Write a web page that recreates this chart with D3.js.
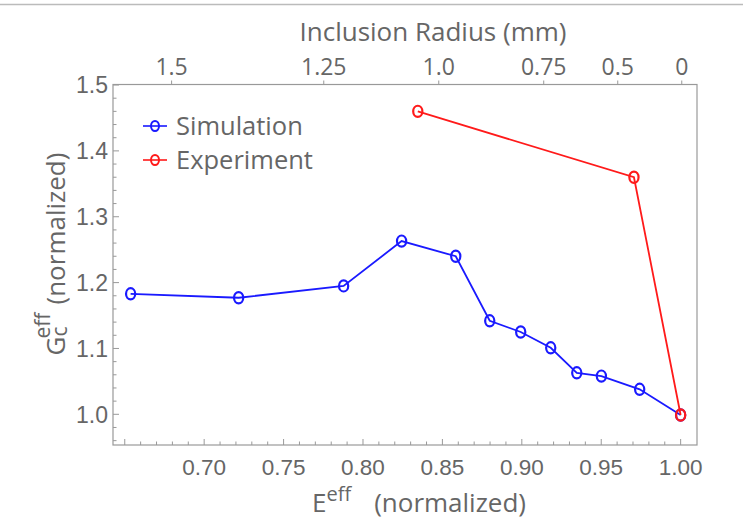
<!DOCTYPE html>
<html>
<head>
<meta charset="utf-8">
<script src="https://cdn.jsdelivr.net/npm/d3@7"></script>
<style>
  body { margin: 0; background: #fff; }
  svg { display: block; }
</style>
</head>
<body>
<svg id="chart" width="743" height="522"></svg>
<script>
// Data
const simE = [0.6537, 0.7217, 0.7878, 0.8243, 0.8584, 0.8798, 0.8993, 0.9182, 0.9346, 0.9501, 0.9742, 1.0];
const simG = [1.183, 1.177, 1.195, 1.263, 1.240, 1.142, 1.125, 1.101, 1.063, 1.058, 1.038, 0.999];
const expE = [0.8345, 0.9706, 1.0];
const expG = [1.460, 1.360, 0.999];

// top axis: inclusion radius labels and where they sit on the E scale
const radiusLabels = ["1.5", "1.25", "1.0", "0.75", "0.5", "0"];
const radiusAtE = [0.6795, 0.7753, 0.8477, 0.9138, 0.9604, 1.0007];

const xTickValues = [0.70, 0.75, 0.80, 0.85, 0.90, 0.95, 1.00];
const yTickValues = [1.0, 1.1, 1.2, 1.3, 1.4, 1.5];

const Gray = "#999";
const TextGray = "#666";
const BlueColor = "#1a1aff";
const RedColor = "#ff1a1a";
const numFont = "'Liberation Sans', Arial, sans-serif";
const txtFont = "'Open Sans', Lato, sans-serif";

const svg = d3.select("#chart");
const margin = { left: 113, top: 84.5, right: 697, bottom: 445 };

const x = d3.scaleLinear().domain([0.6426, 1.0103]).range([margin.left, margin.right]);
const y = d3.scaleLinear().domain([0.9534, 1.5008]).range([margin.bottom, margin.top]);

// thin line across the top of the slide
svg.append("line")
  .attr("x1", 0).attr("x2", 743).attr("y1", 4.5).attr("y2", 4.5)
  .attr("stroke", "#bbb").attr("stroke-width", 1.5);

// frame
svg.append("rect")
  .attr("x", margin.left).attr("y", margin.top)
  .attr("width", margin.right - margin.left).attr("height", margin.bottom - margin.top)
  .attr("fill", "none").attr("stroke", Gray).attr("stroke-width", 1.2);

// bottom axis (ticks inward)
const bottomAxis = svg.append("g").attr("transform", `translate(0,${margin.bottom})`);
const minorX = d3.range(65, 101).map(d => d / 100);
bottomAxis.selectAll("line").data(minorX).join("line")
  .attr("x1", d => x(d)).attr("x2", d => x(d))
  .attr("y1", 0).attr("y2", d => (Math.round(d * 100) % 5 === 0) ? -6 : -3.5)
  .attr("stroke", Gray).attr("stroke-width", 1);
bottomAxis.selectAll("text").data(xTickValues).join("text")
  .attr("x", d => x(d)).attr("y", 30)
  .attr("text-anchor", "middle")
  .attr("font-family", numFont).attr("font-size", 22.5)
  .attr("fill", TextGray)
  .text(d3.format(".2f"));

// left axis (ticks inward)
const leftAxis = svg.append("g").attr("transform", `translate(${margin.left},0)`);
const minorY = d3.range(96, 151, 2).map(d => d / 100);
leftAxis.selectAll("line").data(minorY).join("line")
  .attr("x1", 0).attr("x2", d => (Math.round(d * 100) % 10 === 0) ? 6 : 3.5)
  .attr("y1", d => y(d)).attr("y2", d => y(d))
  .attr("stroke", Gray).attr("stroke-width", 1);
leftAxis.selectAll("text").data(yTickValues).join("text")
  .attr("x", -5).attr("y", d => y(d))
  .attr("dy", "0.36em")
  .attr("text-anchor", "end")
  .attr("font-family", numFont).attr("font-size", 23)
  .attr("fill", TextGray)
  .text(d3.format(".1f"));

// top axis: inclusion radius
const topAxis = svg.append("g").attr("transform", `translate(0,${margin.top})`);
topAxis.selectAll("line").data(radiusAtE).join("line")
  .attr("x1", d => x(d)).attr("x2", d => x(d))
  .attr("y1", 0).attr("y2", -4)
  .attr("stroke", Gray).attr("stroke-width", 1);
topAxis.selectAll("text").data(radiusLabels).join("text")
  .attr("x", (d, i) => x(radiusAtE[i])).attr("y", -10)
  .attr("text-anchor", "middle")
  .attr("font-family", txtFont).attr("font-size", 23)
  .attr("fill", TextGray)
  .text(d => d);
svg.append("text")
  .attr("x", 433).attr("y", 41)
  .attr("text-anchor", "middle")
  .attr("font-family", txtFont).attr("font-size", 26)
  .attr("fill", TextGray)
  .text("Inclusion Radius (mm)");

// axis titles
const xTitle = svg.append("text")
  .attr("x", 312).attr("y", 512)
  .attr("font-family", txtFont).attr("font-size", 26)
  .attr("fill", TextGray);
xTitle.append("tspan").text("E");
xTitle.append("tspan").attr("dy", -11).attr("font-size", 20).text("eff");
xTitle.append("tspan").attr("dy", 11).attr("dx", 23).text("(normalized)");

const yTitle = svg.append("text")
  .attr("transform", "translate(65,254) rotate(-90)")
  .attr("text-anchor", "middle")
  .attr("font-family", txtFont).attr("font-size", 26)
  .attr("fill", TextGray);
yTitle.append("tspan").text("G");
yTitle.append("tspan").attr("dy", 2).attr("font-size", 21).text("c");
yTitle.append("tspan").attr("dy", -17).attr("dx", -12).attr("font-size", 21).text("eff");
yTitle.append("tspan").attr("dy", 15).attr("dx", 8).text("(normalized)");

// series
const series = [
  { name: "Simulation", color: BlueColor, pts: simE.map((e, i) => [e, simG[i]]) },
  { name: "Experiment", color: RedColor, pts: expE.map((e, i) => [e, expG[i]]) }
];

const line = d3.line().x(d => x(d[0])).y(d => y(d[1]));
const plot = svg.append("g");
series.forEach(s => {
  plot.append("path").datum(s.pts)
    .attr("d", line)
    .attr("fill", "none").attr("stroke", s.color).attr("stroke-width", 1.8);
  plot.selectAll(null).data(s.pts).join("ellipse")
    .attr("cx", d => x(d[0])).attr("cy", d => y(d[1]))
    .attr("rx", 4.6).attr("ry", 5.6)
    .attr("fill", "none").attr("stroke", s.color).attr("stroke-width", 2.2);
});

// legend
const legend = svg.append("g");
series.forEach((s, i) => {
  const ly = 126 + i * 34;
  legend.append("line")
    .attr("x1", 143).attr("x2", 167).attr("y1", ly).attr("y2", ly)
    .attr("stroke", s.color).attr("stroke-width", 1.6);
  legend.append("ellipse")
    .attr("cx", 155).attr("cy", ly).attr("rx", 4).attr("ry", 5)
    .attr("fill", "none").attr("stroke", s.color).attr("stroke-width", 2);
  legend.append("text")
    .attr("x", 176).attr("y", ly).attr("dy", "0.35em")
    .attr("font-family", txtFont).attr("font-size", 25.5)
    .attr("fill", TextGray)
    .text(s.name);
});
</script>
</body>
</html>
